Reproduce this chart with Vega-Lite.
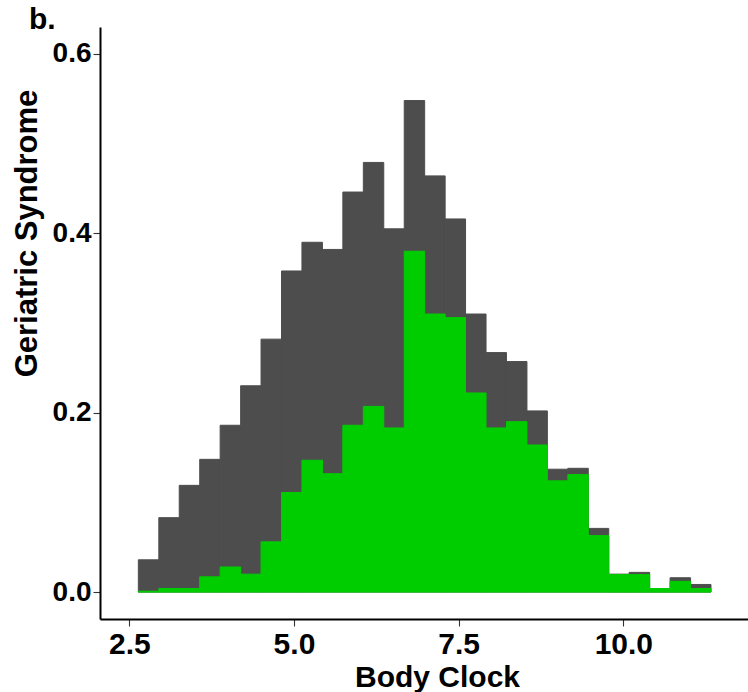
{
  "$schema": "https://vega.github.io/schema/vega-lite/v6.json",
  "width": 648,
  "height": 592,
  "autosize": {"type": "none"},
  "padding": {"left": 100, "top": 27, "right": 0, "bottom": 73},
  "background": "white",
  "title": {
    "text": "b.",
    "anchor": "start",
    "frame": "group",
    "font": "Liberation Sans",
    "fontSize": 30,
    "fontWeight": "bold",
    "color": "black",
    "baseline": "alphabetic",
    "dx": -71,
    "dy": 30,
    "offset": -2
  },
  "data": {
    "values": [
      {"x0": 2.637, "x1": 2.948, "all": 0.036, "sub": 0.001},
      {"x0": 2.948, "x1": 3.258, "all": 0.083, "sub": 0.004},
      {"x0": 3.258, "x1": 3.569, "all": 0.119, "sub": 0.004},
      {"x0": 3.569, "x1": 3.879, "all": 0.148, "sub": 0.017},
      {"x0": 3.879, "x1": 4.190, "all": 0.186, "sub": 0.028},
      {"x0": 4.190, "x1": 4.500, "all": 0.230, "sub": 0.020},
      {"x0": 4.500, "x1": 4.811, "all": 0.282, "sub": 0.056},
      {"x0": 4.811, "x1": 5.121, "all": 0.358, "sub": 0.111},
      {"x0": 5.121, "x1": 5.432, "all": 0.390, "sub": 0.147},
      {"x0": 5.432, "x1": 5.742, "all": 0.382, "sub": 0.132},
      {"x0": 5.742, "x1": 6.053, "all": 0.446, "sub": 0.186},
      {"x0": 6.053, "x1": 6.363, "all": 0.479, "sub": 0.207},
      {"x0": 6.363, "x1": 6.674, "all": 0.405, "sub": 0.183},
      {"x0": 6.674, "x1": 6.984, "all": 0.548, "sub": 0.380},
      {"x0": 6.984, "x1": 7.295, "all": 0.464, "sub": 0.310},
      {"x0": 7.295, "x1": 7.605, "all": 0.416, "sub": 0.306},
      {"x0": 7.605, "x1": 7.916, "all": 0.310, "sub": 0.222},
      {"x0": 7.916, "x1": 8.226, "all": 0.267, "sub": 0.183},
      {"x0": 8.226, "x1": 8.537, "all": 0.257, "sub": 0.190},
      {"x0": 8.537, "x1": 8.847, "all": 0.202, "sub": 0.164},
      {"x0": 8.847, "x1": 9.158, "all": 0.137, "sub": 0.124},
      {"x0": 9.158, "x1": 9.468, "all": 0.138, "sub": 0.131},
      {"x0": 9.468, "x1": 9.779, "all": 0.071, "sub": 0.063},
      {"x0": 9.779, "x1": 10.089, "all": 0.020, "sub": 0.0195},
      {"x0": 10.089, "x1": 10.400, "all": 0.022, "sub": 0.0195},
      {"x0": 10.400, "x1": 10.710, "all": 0.004, "sub": 0.004},
      {"x0": 10.710, "x1": 11.021, "all": 0.016, "sub": 0.012},
      {"x0": 11.021, "x1": 11.331, "all": 0.0085, "sub": 0.004}
    ]
  },
  "encoding": {
    "x": {
      "field": "x0",
      "type": "quantitative",
      "scale": {"domain": [2.055, 11.893], "nice": false, "zero": false},
      "axis": {
        "title": "Body Clock",
        "values": [2.5, 5, 7.5, 10],
        "format": ".1f",
        "labelFontSize": 30,
        "labelPadding": 3,
        "titleX": 337,
        "titleY": 67.5,
        "titleBaseline": "alphabetic",
        "titleFontSize": 30
      }
    },
    "x2": {"field": "x1"}
  },
  "layer": [
    {
      "mark": {"type": "rect", "color": "#4D4D4D", "stroke": "#4D4D4D", "strokeWidth": 1},
      "encoding": {
        "y": {
          "field": "all",
          "type": "quantitative",
          "scale": {"domain": [-0.03, 0.63], "nice": false, "zero": false},
          "axis": {
            "title": "Geriatric Syndrome",
            "values": [0, 0.2, 0.4, 0.6],
            "format": ".1f",
            "labelFontSize": 28,
            "labelPadding": 2,
            "titleX": -57,
            "titleY": 206,
            "titleBaseline": "bottom",
            "titleFontSize": 31
          }
        },
        "y2": {"datum": 0}
      }
    },
    {
      "mark": {"type": "rect", "color": "#00CD00", "stroke": "#00CD00", "strokeWidth": 1},
      "encoding": {
        "y": {"field": "sub", "type": "quantitative"},
        "y2": {"datum": 0}
      }
    }
  ],
  "config": {
    "view": {"stroke": null},
    "axis": {
      "grid": false,
      "domainColor": "black",
      "domainWidth": 2,
      "tickColor": "#333333",
      "tickWidth": 1.1,
      "tickSize": 7,
      "labelFont": "Liberation Sans",
      "labelFontWeight": "bold",
      "labelColor": "black",
      "titleFont": "Liberation Sans",
      "titleFontWeight": "bold",
      "titleColor": "black"
    }
  }
}
